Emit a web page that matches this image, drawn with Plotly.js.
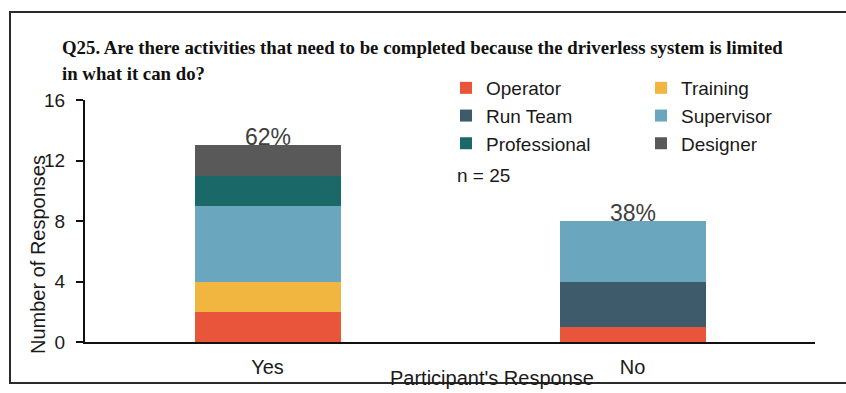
<!DOCTYPE html>
<html>
<head>
<meta charset="utf-8">
<script src="https://cdn.plot.ly/plotly-3.0.1.min.js"></script>
<style>html,body{margin:0;padding:0;background:#fff;}#chart{width:846px;height:393px;}</style>
</head>
<body>
<div id="chart"></div>
<script>
// ---- data ----
const categories = ["Yes", "No"];
const seriesNames = ["Operator", "Training", "Run Team", "Supervisor", "Professional", "Designer"];
const operator     = [2, 1];
const training     = [2, 0];
const runTeam      = [0, 3];
const supervisor   = [5, 4];
const professional = [2, 0];
const designer     = [2, 0];
const yTicks = [0, 4, 8, 12, 16];
const sampleNote = "n = 25";
const titleLine1 = "Q25. Are there activities that need to be completed because the driverless system is limited";
const titleLine2 = "in what it can do?";

const seriesValues = [operator, training, runTeam, supervisor, professional, designer];
const colors = ["#e9553a", "#f1b640", "#3d5b6a", "#6aa6be", "#1b6868", "#595959"];
const legendOf = ["legend", "legend2", "legend", "legend2", "legend", "legend2"];

const traces = seriesNames.map((name, i) => ({
  type: "bar",
  name: name,
  x: categories,
  y: seriesValues[i],
  marker: {color: colors[i]},
  width: 0.4,
  legend: legendOf[i],
  hoverinfo: "x+y+name"
}));

const totals = categories.map((c, j) => seriesValues.reduce((s, arr) => s + arr[j], 0));
const grand = totals.reduce((a, b) => a + b, 0);

const font = {family: "Liberation Sans, Arial, sans-serif", color: "#1a1a1a"};
const titleFont = {family: "Liberation Serif, Times New Roman, serif", size: 18.8, color: "#111"};

const annotations = categories.map((c, j) => ({
  x: c, y: totals[j], xref: "x", yref: "y",
  text: Math.round(totals[j] / grand * 100) + "%",
  showarrow: false, yanchor: "bottom", yshift: -7,
  font: Object.assign({}, font, {size: 23, color: "#404040"})
}));
annotations.push({
  x: (455 - 85) / 730, y: (342 - 175) / 242, xref: "paper", yref: "paper",
  xanchor: "left", yanchor: "middle", text: sampleNote, showarrow: false,
  font: Object.assign({}, font, {size: 19})
});
annotations.push({
  x: (60 - 85) / 730, y: (342 - 73) / 242, xref: "paper", yref: "paper",
  xanchor: "left", yanchor: "middle", text: "<b>" + titleLine2 + "</b>", showarrow: false,
  font: titleFont
});
annotations.push({
  x: (38 - 85) / 730, y: 0.5 - (255 - 221) / 242, xref: "paper", yref: "paper",
  xanchor: "center", yanchor: "middle", textangle: -90, text: "Number of Responses", showarrow: false,
  font: Object.assign({}, font, {size: 20})
});
annotations.push({
  x: (492 - 85) / 730, y: (342 - 378) / 242, xref: "paper", yref: "paper",
  xanchor: "center", yanchor: "middle", text: "Participant's Response", showarrow: false,
  font: Object.assign({}, font, {size: 20})
});

const layout = {
  width: 846, height: 393,
  margin: {l: 85, r: 31, t: 100, b: 51},
  paper_bgcolor: "#ffffff", plot_bgcolor: "#ffffff",
  barmode: "stack",
  font: font,
  title: {
    text: "<b>" + titleLine1 + "</b>",
    x: 62 / 846, xanchor: "left", xref: "container",
    y: 1 - 47 / 393, yanchor: "middle", yref: "container",
    font: titleFont
  },
  xaxis: {
    type: "category", categoryorder: "array", categoryarray: categories,
    range: [-0.5, 1.5], showline: true, linecolor: "#111", linewidth: 2,
    showgrid: false, zeroline: false, ticks: "", ticklabelstandoff: 6,
    tickfont: {size: 20, color: "#1a1a1a"}
  },
  yaxis: {
    range: [0, 16], tickvals: yTicks, ticktext: yTicks.map(String),
    showline: true, linecolor: "#111", linewidth: 2, showgrid: false, zeroline: false,
    ticks: "outside", ticklen: 7, tickwidth: 2, tickcolor: "#111", ticklabelstandoff: 7,
    tickfont: {size: 19, color: "#1a1a1a"}
  },
  yaxis2: {
    overlaying: "y", side: "left", range: [0, 16], tickvals: yTicks,
    showticklabels: false, showline: false, showgrid: false, zeroline: false,
    ticks: "inside", ticklen: 7, tickwidth: 2, tickcolor: "#111"
  },
  legend: {
    x: (446 - 85) / 730, y: (342 - 69) / 242, xanchor: "left", yanchor: "top",
    orientation: "v", traceorder: "normal", bgcolor: "rgba(0,0,0,0)",
    font: {size: 19, color: "#1a1a1a"}, itemclick: false, tracegroupgap: 0
  },
  legend2: {
    x: (641 - 85) / 730, y: (342 - 69) / 242, xanchor: "left", yanchor: "top",
    orientation: "v", traceorder: "normal", bgcolor: "rgba(0,0,0,0)",
    font: {size: 19, color: "#1a1a1a"}, itemclick: false, tracegroupgap: 0
  },
  annotations: annotations,
  shapes: [{
    type: "rect", xref: "paper", yref: "paper",
    x0: (10 - 85) / 730, x1: (852 - 85) / 730, y0: (342 - 383) / 242, y1: (342 - 12) / 242,
    line: {color: "#2a2a2a", width: 2}, fillcolor: "rgba(0,0,0,0)", layer: "below"
  }],
  showlegend: true
};

Plotly.newPlot("chart", traces, layout, {displayModeBar: false, staticPlot: true});
</script>
</body>
</html>
